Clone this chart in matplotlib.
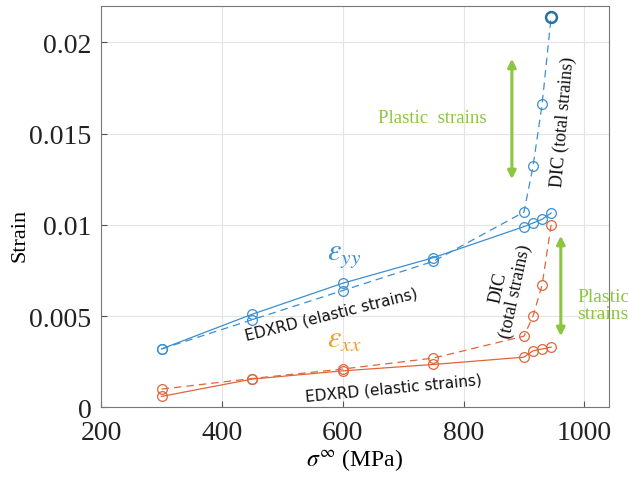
import numpy as np
import matplotlib.pyplot as plt

# applied stress (MPa)
stress = [300, 450, 600, 750, 900, 915, 930, 945]

# EDXRD elastic strains
edxrd_yy = [0.0032, 0.0051, 0.0068, 0.0082, 0.0099, 0.0101, 0.0103, 0.01065]
edxrd_xx = [0.0006, 0.00155, 0.0020, 0.00235, 0.00275, 0.0031, 0.0032, 0.0033]

# DIC total strains
dic_yy = [0.0032, 0.0048, 0.0064, 0.0080, 0.0107, 0.0132, 0.0166, 0.0214]
dic_xx = [0.0010, 0.00158, 0.0021, 0.0027, 0.0039, 0.0050, 0.0067, 0.0100]

blue = '#3a8fd3'
orange = '#e0663a'
green = '#8cc63f'
serif = 'Liberation Serif'
plt.rcParams['mathtext.fontset'] = 'stix'

fig = plt.figure(figsize=(6.28, 4.81), dpi=100)
ax = fig.add_axes([0.161, 0.151, 0.808, 0.835])

mk = dict(marker='o', mfc='none', markersize=7, mew=0.9)
ax.plot(stress, edxrd_yy, '-', color=blue, lw=0.9, **mk)
ax.plot(stress, dic_yy, '--', color=blue, lw=0.9, dashes=(6, 4), **mk)
ax.plot(stress, edxrd_xx, '-', color=orange, lw=0.9, **mk)
ax.plot(stress, dic_xx, '--', color=orange, lw=0.9, dashes=(6, 4), **mk)
# last DIC point drawn heavier
ax.plot(stress[-1], dic_yy[-1], 'o', mfc='none', mec='#2a6f9e', markersize=8, mew=1.6)

ax.set_xlim(200, 1040)
ax.set_ylim(0, 0.022)
ax.set_xticks([200, 400, 600, 800, 1000])
ax.set_yticks([0, 0.005, 0.01, 0.015, 0.02])
ax.set_yticklabels(['0', '0.005', '0.01', '0.015', '0.02'])
ax.tick_params(direction='in', length=4, color='#555555', labelsize=20)
ax.tick_params(axis='x', pad=9)
ax.tick_params(axis='y', pad=7)
for lab in ax.get_xticklabels() + ax.get_yticklabels():
    lab.set_family(serif)
    lab.set_color('#222222')
for s in ax.spines.values():
    s.set_color('#777777')
    s.set_linewidth(0.8)
ax.grid(True, color='#e4e4e4', lw=0.8)
ax.set_axisbelow(True)

ax.set_xlabel(r'$\sigma^{\infty}$ (MPa)', fontsize=17, family=serif, labelpad=1)
ax.set_ylabel('Strain', fontsize=16, family=serif)
ax.yaxis.set_label_coords(-0.142, 0.43)

# curve labels
ax.text(603, 0.0084, r'$\varepsilon_{yy}$', color=blue, fontsize=22,
        ha='center', va='center')
ax.text(603, 0.00375, r'$\varepsilon_{xx}$', color='#f0a030', fontsize=22,
        ha='center', va='center')
ax.text(581, 0.0051, 'EDXRD (elastic strains)', fontsize=11, rotation=14,
        ha='center', va='center', color='#111111')
ax.text(684, 0.0011, 'EDXRD (elastic strains)', fontsize=11, rotation=5.5,
        ha='center', va='center', color='#111111')
ax.text(965, 0.0157, 'DIC (total strains)', fontsize=13, family=serif,
        rotation=85, ha='center', va='center', color='#111111')
ax.text(872, 0.0065, 'DIC\n(total strains)', fontsize=13, family=serif,
        rotation=78, ha='center', va='center', color='#111111',
        linespacing=1.0)

# plastic strain arrows
ax.annotate('', xy=(880, 0.0191), xytext=(880, 0.0125),
            arrowprops=dict(arrowstyle='<|-|>', color=green, lw=2.2,
                            mutation_scale=12, shrinkA=0, shrinkB=0))
ax.annotate('', xy=(961, 0.0094), xytext=(961, 0.0039),
            arrowprops=dict(arrowstyle='<|-|>', color=green, lw=2.2,
                            mutation_scale=12, shrinkA=0, shrinkB=0))
ax.text(748, 0.0159, 'Plastic  strains', fontsize=13.5, family=serif,
        color=green, ha='center', va='center')
ax.text(988, 0.0056, 'Plastic\nstrains', fontsize=14, family=serif,
        color=green, ha='left', va='center', linespacing=1.05,
        clip_on=False)

fig.savefig('out.png', dpi=100)
